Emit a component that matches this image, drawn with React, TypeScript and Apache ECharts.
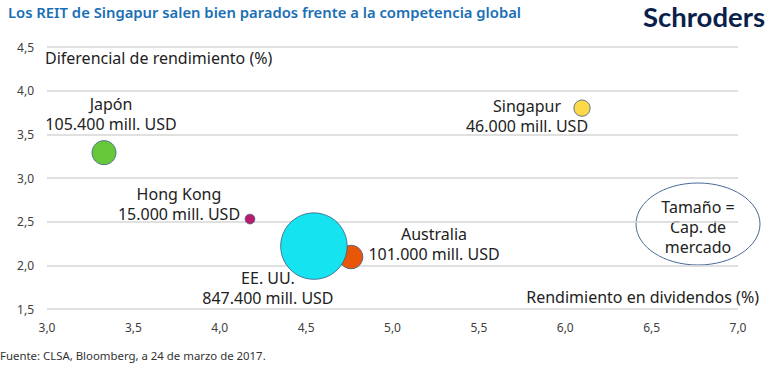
import React, { useEffect, useRef } from "react";
import * as echarts from "echarts";

const countries = ["Japón", "Hong Kong", "Australia", "EE. UU.", "Singapur"];
const dividendYield = [3.33, 4.175, 4.76, 4.545, 6.097];
const yieldSpread = [3.29, 2.53, 2.095, 2.22, 3.8];
const marketCap = [105400, 15000, 101000, 847400, 46000]; // mill. USD
const colors = ["#66c93a", "#bc1a6e", "#e8560a", "#15e4f0", "#fdd84b"];
// label offsets (px) relative to bubble centre
const labelOffsets: number[][] = [
  [7, -39],
  [-71, -15.5],
  [83, -13.5],
  [-46, 41.5],
  [-55, 8],
];
const xTicks = { min: 3, max: 7, interval: 0.5 };
const yTicks = { min: 1.5, max: 4.5, interval: 0.5 };

const FONT = "'Noto Sans', 'Open Sans', sans-serif";

function fmtCap(v: number): string {
  return v.toString().replace(/\B(?=(\d{3})+(?!\d))/g, ".") + " mill. USD";
}

export default function App() {
  const ref = useRef<HTMLDivElement>(null);
  useEffect(() => {
    if (!ref.current) return;
    const chart = echarts.init(ref.current, null, { renderer: "svg" });
    const data = countries.map((c, i) => ({
      name: c,
      value: [dividendYield[i], yieldSpread[i], marketCap[i]],
      itemStyle: { color: colors[i], borderColor: "#3d5a80", borderWidth: 0.8, opacity: 1 },
      label: { offset: labelOffsets[i] },
    }));
    chart.setOption({
      animation: false,
      textStyle: { fontFamily: FONT },
      grid: { left: 47, right: 32, top: 47, bottom: 57, containLabel: false },
      xAxis: {
        type: "value",
        min: xTicks.min,
        max: xTicks.max,
        interval: xTicks.interval,
        axisLine: { show: false },
        axisTick: { show: false },
        splitLine: { show: false },
        axisLabel: {
          color: "#404040",
          fontSize: 12,
          margin: 12,
          fontFamily: FONT,
          formatter: (v: number) => v.toFixed(1).replace(".", ","),
        },
      },
      yAxis: {
        type: "value",
        min: yTicks.min,
        max: yTicks.max,
        interval: yTicks.interval,
        axisLine: { show: false },
        axisTick: { show: false },
        splitLine: { show: true, lineStyle: { color: "#d6d6d6", width: 1.5 } },
        axisLabel: {
          color: "#404040",
          fontSize: 12,
          margin: 13,
          fontFamily: FONT,
          formatter: (v: number) => v.toFixed(1).replace(".", ","),
        },
      },
      series: [
        {
          type: "scatter",
          data,
          symbolSize: (val: number[]) => 2.25 * Math.sqrt(val[2] / 1000) + 1,
          label: {
            show: true,
            position: "inside",
            align: "center",
            verticalAlign: "middle",
            color: "#222",
            fontSize: 16,
            lineHeight: 20,
            fontFamily: FONT,
            formatter: (p: any) => p.name + "\n" + fmtCap(p.value[2]),
          },
          emphasis: { disabled: true },
        },
      ],
      graphic: [
        {
          type: "text",
          left: 8,
          top: 4,
          style: {
            text: "Los REIT de Singapur salen bien parados frente a la competencia global",
            fill: "#1a6fb5",
            font: "600 14.8px 'Liberation Sans Narrow', 'Noto Sans', sans-serif",
          },
        },
        {
          type: "text",
          x: 765,
          y: 16,
          style: {
            text: "Schroders",
            fill: "#0b1f4b",
            font: "700 27.5px Lato, 'Open Sans', sans-serif",
            lineHeight: 30,
            align: "right",
            verticalAlign: "middle",
          },
        },
        {
          type: "text",
          left: 45,
          top: 50,
          style: { text: "Diferencial de rendimiento (%)", fill: "#222", font: "16px " + FONT },
        },
        {
          type: "text",
          x: 759,
          y: 297,
          style: {
            text: "Rendimiento en dividendos (%)",
            fill: "#222",
            font: "16px " + FONT,
            align: "right",
            verticalAlign: "middle",
          },
        },
        {
          type: "ellipse",
          shape: { cx: 698, cy: 224, rx: 62, ry: 41 },
          style: { fill: "none", stroke: "#4a6a96", lineWidth: 1 },
        },
        {
          type: "text",
          x: 698,
          y: 227,
          style: {
            text: "Tamaño =\nCap. de\nmercado",
            fill: "#222",
            font: "16px " + FONT,
            lineHeight: 20,
            align: "center",
            verticalAlign: "middle",
          },
        },
        {
          type: "text",
          left: 0,
          top: 350,
          style: {
            text: "Fuente: CLSA, Bloomberg, a 24 de marzo de 2017.",
            fill: "#333",
            font: "11.4px 'Liberation Sans Narrow', 'Noto Sans', sans-serif",
          },
        },
      ],
    });
    return () => chart.dispose();
  }, []);
  return <div ref={ref} style={{ width: 770, height: 366, position: "absolute", left: 0, top: 0, background: "#fff" }} />;
}
